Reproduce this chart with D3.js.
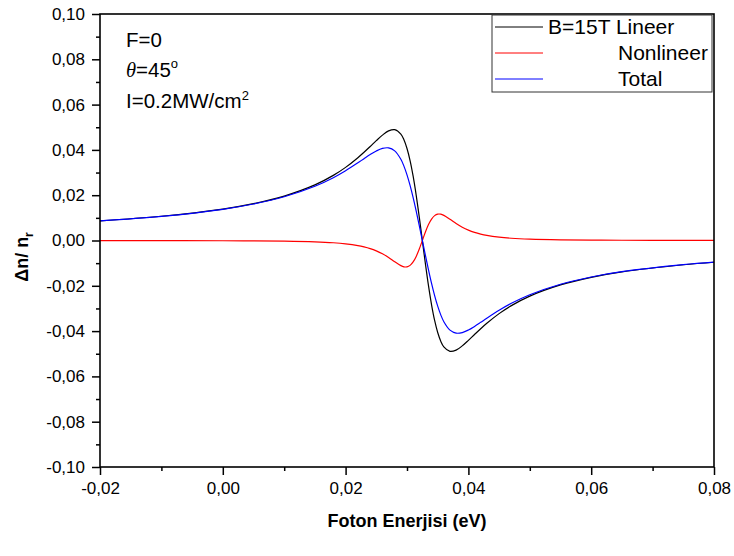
<!DOCTYPE html>
<html>
<head>
<meta charset="utf-8">
<script src="https://cdn.jsdelivr.net/npm/d3@7"></script>
<style>
  body { margin: 0; background: #fff; }
  svg { display: block; }
  text { font-family: "Liberation Sans", Arial, sans-serif; fill: #000; }
</style>
</head>
<body>
<svg id="chart" width="734" height="556"></svg>
<script>
// Photon energy (eV)
const energy = [
  -0.02, -0.01, 0.000, 0.005, 0.010, 0.015, 0.018, 0.020, 0.022, 0.023,
  0.024, 0.025, 0.026, 0.027, 0.028, 0.029, 0.0295, 0.030, 0.0305, 0.031,
  0.0315, 0.032, 0.0325, 0.033, 0.0335, 0.034, 0.0345, 0.035, 0.0355, 0.036,
  0.037, 0.038, 0.039, 0.040, 0.041, 0.042, 0.043, 0.045, 0.047, 0.050,
  0.055, 0.060, 0.065, 0.075, 0.080
];
// Linear refractive index change, B = 15 T
const linear = [
  0.00870, 0.01071, 0.01388, 0.01627, 0.01962, 0.02455, 0.02875, 0.03228, 0.03655, 0.03895,
  0.04150, 0.04410, 0.04653, 0.04840, 0.04895, 0.04695, 0.04445, 0.04063, 0.03531, 0.02839,
  0.01995, 0.01031, 0.00000, -0.01031, -0.01995, -0.02839, -0.03531, -0.04063, -0.04445, -0.04695,
  -0.04895, -0.04840, -0.04653, -0.04410, -0.04150, -0.03895, -0.03655, -0.03228, -0.02875, -0.02455,
  -0.01962, -0.01627, -0.01388, -0.01071, -0.00960
];
// Nonlinear (third-order) contribution
const nonlinear = [
  -0.00003, -0.00005, -0.00010, -0.00017, -0.00030, -0.00061, -0.00100, -0.00147, -0.00224, -0.00282,
  -0.00357, -0.00457, -0.00587, -0.00751, -0.00939, -0.01110, -0.01161, -0.01164, -0.01099, -0.00947,
  -0.00702, -0.00375, 0.00000, 0.00375, 0.00702, 0.00947, 0.01099, 0.01164, 0.01161, 0.01110,
  0.00939, 0.00751, 0.00587, 0.00457, 0.00357, 0.00282, 0.00224, 0.00147, 0.00100, 0.00061,
  0.00030, 0.00017, 0.00011, 0.00005, 0.00003
];
// Total change
const total = [
  0.00868, 0.01066, 0.01378, 0.01610, 0.01931, 0.02394, 0.02774, 0.03081, 0.03430, 0.03614,
  0.03793, 0.03953, 0.04066, 0.04089, 0.03957, 0.03585, 0.03284, 0.02899, 0.02432, 0.01892,
  0.01293, 0.00656, 0.00000, -0.00656, -0.01293, -0.01892, -0.02432, -0.02899, -0.03284, -0.03585,
  -0.03957, -0.04089, -0.04066, -0.03953, -0.03793, -0.03614, -0.03430, -0.03081, -0.02774, -0.02394,
  -0.01931, -0.01610, -0.01377, -0.01066, -0.00957
];

const seriesNames = ["B=15T Lineer", "Nonlineer", "Total"];
const seriesColors = ["#000000", "#ff0000", "#0000ff"];

const xMajorTicks = [-0.02, 0.00, 0.02, 0.04, 0.06, 0.08];
const xMinorTicks = [-0.01, 0.01, 0.03, 0.05, 0.07];
const yMajorTicks = [-0.10, -0.08, -0.06, -0.04, -0.02, 0.00, 0.02, 0.04, 0.06, 0.08, 0.10];
const yMinorTicks = [-0.09, -0.07, -0.05, -0.03, -0.01, 0.01, 0.03, 0.05, 0.07, 0.09];

const svg = d3.select("#chart");
const W = 734, H = 556;
const margin = { left: 100, right: 20, top: 14, bottom: 89 };
const plotW = W - margin.left - margin.right;
const plotH = H - margin.top - margin.bottom;

const x = d3.scaleLinear().domain([-0.02, 0.08]).range([margin.left, margin.left + plotW]);
const y = d3.scaleLinear().domain([-0.10, 0.10]).range([margin.top + plotH, margin.top]);

// Decimal comma, plain hyphen for negatives
const fmt = v => d3.format(".2f")(v).replace("−", "-").replace(".", ",");

// Curves
const series = [linear, nonlinear, total];
const line = d3.line()
  .x((d, i) => x(energy[i]))
  .y(d => y(d))
  .curve(d3.curveCatmullRom.alpha(0.5));

const curves = svg.append("g");
series.forEach((vals, k) => {
  curves.append("path")
    .datum(vals)
    .attr("fill", "none")
    .attr("stroke", seriesColors[k])
    .attr("stroke-width", 1.2)
    .attr("d", line);
});

// Axes
function styleAxis(g) {
  g.select(".domain").remove();
  g.selectAll(".tick line").attr("stroke", "#000").attr("stroke-width", 1.5);
  g.selectAll(".tick text").style("font-size", "17px").style("font-family", '"Liberation Sans", Arial, sans-serif');
}

svg.append("g")
  .attr("transform", `translate(0,${margin.top + plotH})`)
  .call(d3.axisBottom(x).tickValues(xMajorTicks).tickSize(8).tickPadding(7).tickFormat(fmt))
  .call(styleAxis);
svg.append("g")
  .attr("transform", `translate(0,${margin.top + plotH})`)
  .call(d3.axisBottom(x).tickValues(xMinorTicks).tickSize(4).tickFormat(""))
  .call(styleAxis);
svg.append("g")
  .attr("transform", `translate(${margin.left},0)`)
  .call(d3.axisLeft(y).tickValues(yMajorTicks).tickSize(8).tickPadding(7).tickFormat(fmt))
  .call(styleAxis);
svg.append("g")
  .attr("transform", `translate(${margin.left},0)`)
  .call(d3.axisLeft(y).tickValues(yMinorTicks).tickSize(4).tickFormat(""))
  .call(styleAxis);

// Frame
svg.append("rect")
  .attr("x", margin.left).attr("y", margin.top)
  .attr("width", plotW).attr("height", plotH)
  .attr("fill", "none").attr("stroke", "#000").attr("stroke-width", 1.6);

// Axis titles
svg.append("text")
  .attr("x", margin.left + plotW / 2).attr("y", 527)
  .attr("text-anchor", "middle")
  .style("font-size", "18px").style("font-weight", "bold")
  .text("Foton Enerjisi (eV)");

const yTitle = svg.append("text")
  .attr("transform", "translate(28,257) rotate(-90)")
  .attr("text-anchor", "middle")
  .style("font-size", "18px").style("font-weight", "bold");
yTitle.append("tspan").text("Δn/ n");
yTitle.append("tspan").attr("dy", 5).style("font-size", "12px").text("r");

// Parameter annotations
const ann = svg.append("g").style("font-size", "20.5px");
ann.append("text").attr("x", 126).attr("y", 47).text("F=0");
const t2 = ann.append("text").attr("x", 126).attr("y", 77);
t2.append("tspan").style("font-family", '"Liberation Serif", "Times New Roman", serif').style("font-style", "italic").text("θ");
t2.append("tspan").text("=45");
t2.append("tspan").attr("dy", -9).style("font-size", "13px").text("o");
const t3 = ann.append("text").attr("x", 126).attr("y", 108);
t3.append("tspan").text("I=0.2MW/cm");
t3.append("tspan").attr("dy", -8).style("font-size", "13px").text("2");

// Legend
const legend = svg.append("g");
legend.append("rect")
  .attr("x", 492).attr("y", 15).attr("width", 220).attr("height", 77)
  .attr("fill", "#fff").attr("stroke", "#333").attr("stroke-width", 1);
seriesNames.forEach((name, k) => {
  const cy = 27 + k * 26;
  legend.append("line")
    .attr("x1", 495).attr("x2", 543).attr("y1", cy).attr("y2", cy)
    .attr("stroke", seriesColors[k]).attr("stroke-width", 1);
  legend.append("text")
    .attr("x", k === 0 ? 548 : 618).attr("y", cy + 7)
    .style("font-size", "21px")
    .text(name);
});
</script>
</body>
</html>
